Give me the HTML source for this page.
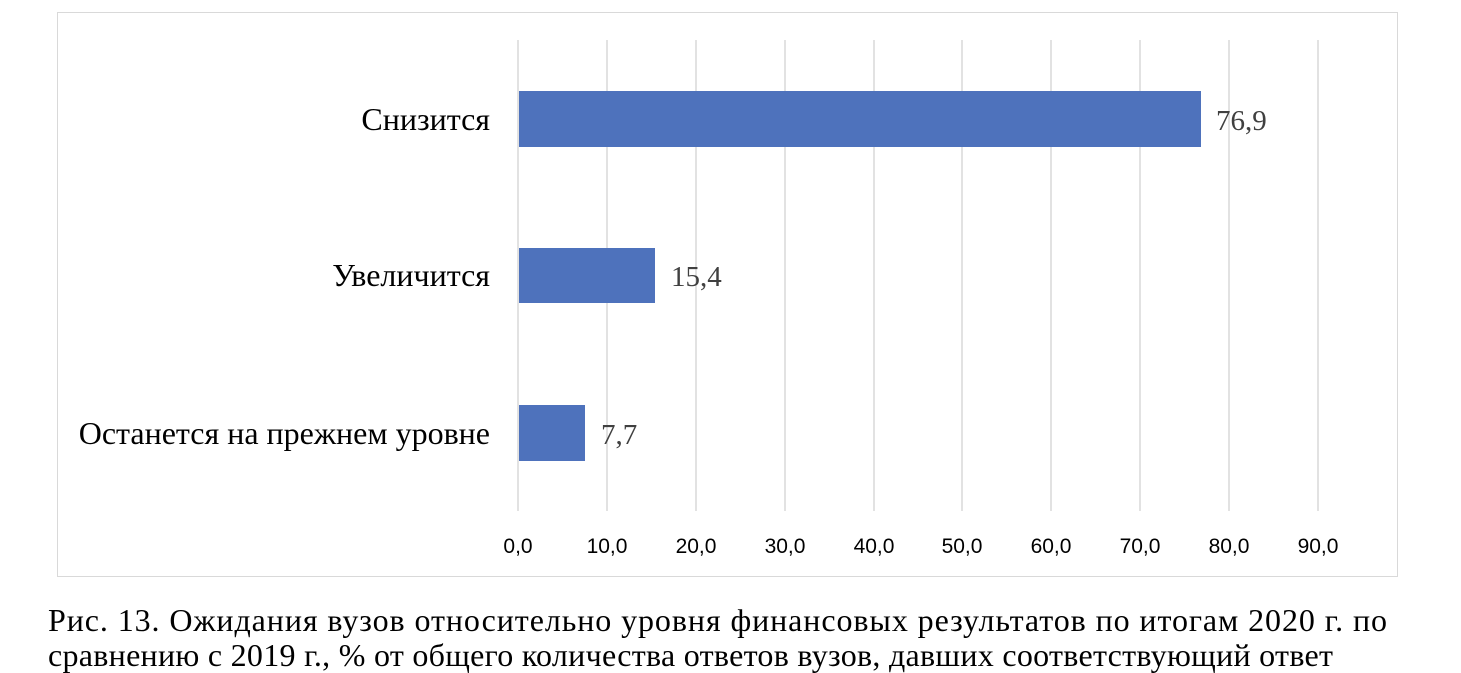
<!DOCTYPE html>
<html><head><meta charset="utf-8"><style>
body{margin:0;width:1461px;height:673px;background:#fff;position:relative;overflow:hidden}
.t{position:absolute;font-family:"Liberation Serif",serif;color:#000;white-space:nowrap}
</style></head><body>
<div style="position:absolute;left:57px;top:12px;width:1339px;height:563px;border:1.5px solid #d9d9d9"></div>
<svg style="position:absolute;left:0;top:0" width="1461" height="673">
<g stroke="#d9d9d9" stroke-width="1.5">
<line x1="518" y1="40" x2="518" y2="511"/><line x1="607" y1="40" x2="607" y2="511"/><line x1="696" y1="40" x2="696" y2="511"/><line x1="785" y1="40" x2="785" y2="511"/><line x1="874" y1="40" x2="874" y2="511"/><line x1="962" y1="40" x2="962" y2="511"/><line x1="1051" y1="40" x2="1051" y2="511"/><line x1="1140" y1="40" x2="1140" y2="511"/><line x1="1229" y1="40" x2="1229" y2="511"/><line x1="1318" y1="40" x2="1318" y2="511"/>
</g>
<g fill="#4e72bc">
<rect x="519" y="91" width="682" height="56"/>
<rect x="519" y="248" width="136" height="55"/>
<rect x="519" y="405" width="66" height="56"/>
</g>
<g font-family="Liberation Serif,serif" font-size="29" fill="#404040">
<text x="1216" y="130">76,9</text><text x="671" y="286">15,4</text><text x="601" y="444">7,7</text>
</g>
<g font-family="Liberation Serif,serif" font-size="32" fill="#000" text-anchor="end">
<text x="490" y="130">Снизится</text><text x="490" y="286">Увеличится</text><text x="490" y="444">Останется на прежнем уровне</text>
</g>
<g font-family="Liberation Sans,sans-serif" font-size="21" fill="#000" text-anchor="middle">
<text x="518" y="553">0,0</text><text x="607" y="553">10,0</text><text x="696" y="553">20,0</text><text x="785" y="553">30,0</text><text x="874" y="553">40,0</text><text x="962" y="553">50,0</text><text x="1051" y="553">60,0</text><text x="1140" y="553">70,0</text><text x="1229" y="553">80,0</text><text x="1318" y="553">90,0</text>
</g>
<g font-family="Liberation Serif,serif" font-size="32" fill="#000">
<text x="48" y="631" textLength="1339" lengthAdjust="spacing">Рис. 13. Ожидания вузов относительно уровня финансовых результатов по итогам 2020 г. по</text>
<text x="48" y="666" textLength="1285" lengthAdjust="spacing">сравнению с 2019 г., % от общего количества ответов вузов, давших соответствующий ответ</text>
</g>
</svg>
</body></html>
